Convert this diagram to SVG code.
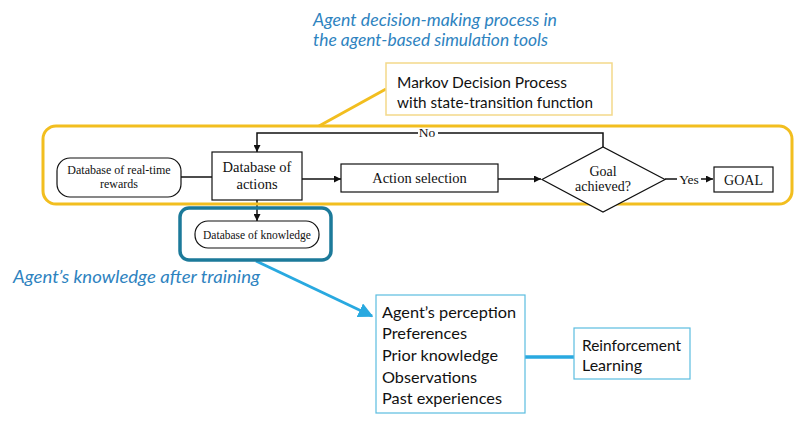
<svg xmlns="http://www.w3.org/2000/svg" width="800" height="421" viewBox="0 0 800 421">
<style>
.ser{font-family:"Liberation Serif","Times New Roman",serif;fill:#111;text-anchor:middle}
.sans{font-family:Lato,"Open Sans","DejaVu Sans",sans-serif;fill:#111;font-size:16px}
.ttl{font-family:Lato,"Open Sans","DejaVu Sans",sans-serif;font-style:italic;fill:#2E83BF;font-size:17px}
.fl{fill:#fff;stroke:#111;stroke-width:1.2}
.ln{stroke:#111;stroke-width:1.5;fill:none}
</style>
<defs>
<marker id="ah" viewBox="0 0 10 10" refX="10" refY="5" markerWidth="7" markerHeight="7" markerUnits="userSpaceOnUse" orient="auto"><path d="M0,0L10,5L0,10z" fill="#111"/></marker>
<marker id="ahc" viewBox="0 0 10 10" refX="9" refY="5" markerWidth="5" markerHeight="5" orient="auto"><path d="M0,0L10,5L0,10z" fill="#29A9E0"/></marker>
</defs>
<rect width="800" height="421" fill="#fff"/>
<g id="titles">
<text class="ttl" x="313" y="26" textLength="244" lengthAdjust="spacingAndGlyphs">Agent decision-making process in</text>
<text class="ttl" x="313" y="46" textLength="235" lengthAdjust="spacingAndGlyphs">the agent-based simulation tools</text>
<text class="ttl" x="13" y="283" textLength="247" lengthAdjust="spacingAndGlyphs">Agent’s knowledge after training</text>
</g>
<g id="connectors">
<line x1="386" y1="89" x2="319" y2="126" stroke="#F2BE1F" stroke-width="3"/>
<line x1="256" y1="261" x2="372" y2="316" stroke="#29A9E0" stroke-width="3" marker-end="url(#ahc)"/>
<line x1="525" y1="357" x2="574" y2="357" stroke="#29A9E0" stroke-width="3.5"/>
<line class="ln" x1="181" y1="177" x2="212" y2="177"/>
<line class="ln" x1="302" y1="179" x2="341" y2="179" marker-end="url(#ah)"/>
<line class="ln" x1="498" y1="179" x2="541" y2="179" marker-end="url(#ah)"/>
<polyline class="ln" points="603,147 603,133 257,133 257,152" marker-end="url(#ah)"/>
<line class="ln" x1="665" y1="179" x2="713" y2="179" marker-end="url(#ah)"/>
<line class="ln" x1="257" y1="200" x2="257" y2="221" marker-end="url(#ah)"/>
<rect x="418" y="126" width="20" height="13" fill="#fff"/>
<text class="ser" x="427" y="137" font-size="13.5">No</text>
<rect x="677" y="172" width="24" height="14" fill="#fff"/>
<text class="ser" x="689" y="183.5" font-size="13.5">Yes</text>
</g>
<g id="mdp-frame">
<rect x="43" y="126" width="749" height="78" rx="13" fill="none" stroke="#F2BE1F" stroke-width="3"/>
</g>
<g id="knowledge-frame">
<rect x="180" y="208" width="151" height="52" rx="9" fill="none" stroke="#1C7A9A" stroke-width="3.5"/>
</g>
<g id="markov">
<rect x="386" y="63" width="226" height="52" fill="#fff" stroke="#F3D98A" stroke-width="1.5"/>
<text class="sans" x="397" y="88" textLength="170" lengthAdjust="spacingAndGlyphs">Markov Decision Process</text>
<text class="sans" x="397" y="108" textLength="196" lengthAdjust="spacingAndGlyphs">with state-transition function</text>
</g>
<g id="rewards">
<rect class="fl" x="57" y="158" width="124" height="39" rx="13"/>
<text class="ser" x="119" y="174" font-size="12">Database of real-time</text>
<text class="ser" x="119" y="188" font-size="12">rewards</text>
</g>
<g id="actions">
<rect class="fl" x="212" y="152" width="90" height="48"/>
<text class="ser" x="257" y="172" font-size="14.5">Database of</text>
<text class="ser" x="257" y="189" font-size="14.5">actions</text>
</g>
<g id="selection">
<rect class="fl" x="341" y="164" width="157" height="28"/>
<text class="ser" x="419.5" y="183" font-size="14.5">Action selection</text>
</g>
<g id="goal-check">
<polygon class="fl" points="542,179.5 603,147 665,179.5 603,212"/>
<text class="ser" x="603" y="176" font-size="14">Goal</text>
<text class="ser" x="603" y="191" font-size="14">achieved?</text>
</g>
<g id="goal">
<rect class="fl" x="714" y="167" width="59" height="25"/>
<text class="ser" x="743.5" y="185" font-size="14">GOAL</text>
</g>
<g id="knowledge">
<rect class="fl" x="195" y="221" width="124" height="27" rx="13"/>
<text class="ser" x="257" y="239" font-size="11.5">Database of knowledge</text>
</g>
<g id="perception">
<rect x="376" y="295" width="149" height="118" fill="#fff" stroke="#5BBDDF" stroke-width="1.2"/>
<text class="sans" x="382" y="318" textLength="134" lengthAdjust="spacingAndGlyphs">Agent’s perception</text>
<text class="sans" x="382" y="339" textLength="85" lengthAdjust="spacingAndGlyphs">Preferences</text>
<text class="sans" x="382" y="361" textLength="116" lengthAdjust="spacingAndGlyphs">Prior knowledge</text>
<text class="sans" x="382" y="383" textLength="95" lengthAdjust="spacingAndGlyphs">Observations</text>
<text class="sans" x="382" y="404" textLength="120" lengthAdjust="spacingAndGlyphs">Past experiences</text>
</g>
<g id="rl">
<rect x="574" y="328" width="116" height="51" fill="#fff" stroke="#5BBDDF" stroke-width="1.2"/>
<text class="sans" x="582" y="351" textLength="99" lengthAdjust="spacingAndGlyphs">Reinforcement</text>
<text class="sans" x="582" y="371" textLength="60" lengthAdjust="spacingAndGlyphs">Learning</text>
</g>
</svg>
